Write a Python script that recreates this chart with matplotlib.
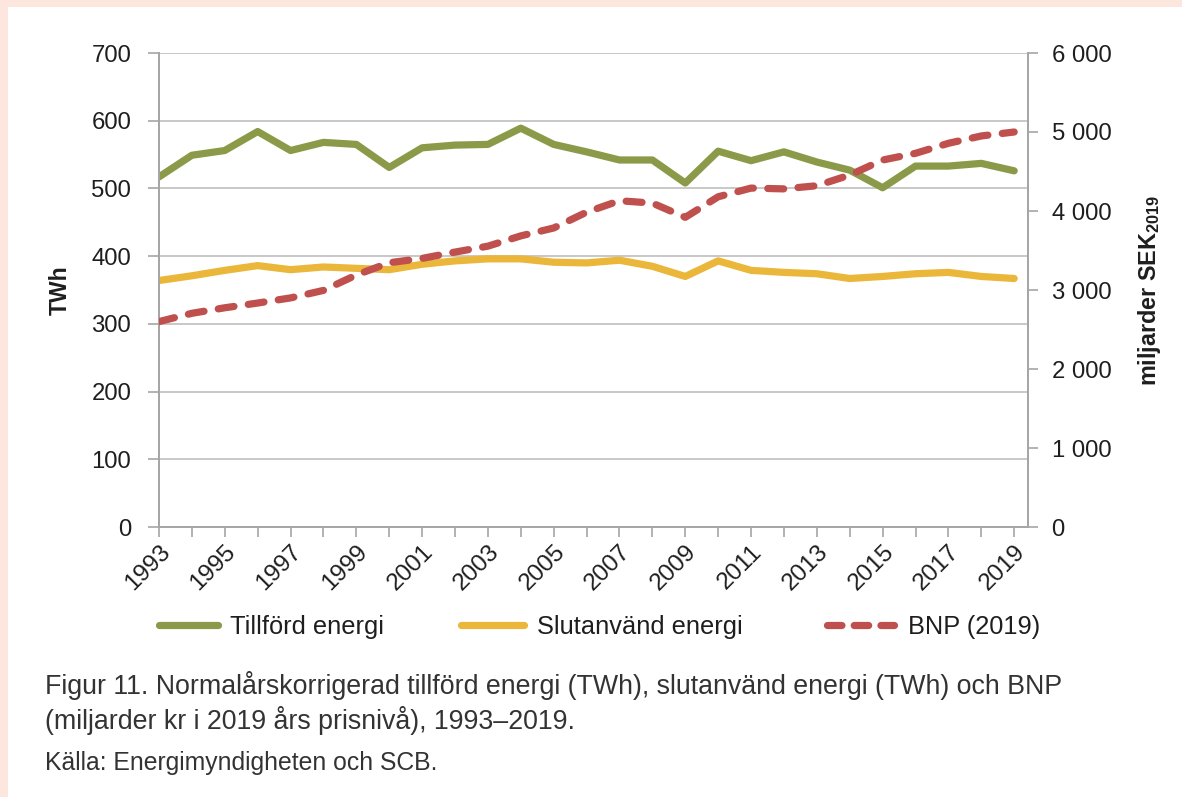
import matplotlib
matplotlib.use("Agg")
import matplotlib.pyplot as plt
import matplotlib.patches as mpatches
from matplotlib.lines import Line2D
from matplotlib.ticker import FuncFormatter

plt.rcParams["font.family"] = ["Liberation Sans", "DejaVu Sans"]
plt.rcParams["mathtext.fontset"] = "custom"
plt.rcParams["mathtext.rm"] = "Liberation Sans"
plt.rcParams["mathtext.bf"] = "Liberation Sans:bold"

# ── Data ──────────────────────────────────────────────────────────────────────
years = list(range(1993, 2020))
tillford = [517, 549, 556, 584, 556, 568, 565, 531, 560, 564, 565, 589, 565, 554,
            542, 542, 508, 555, 541, 554, 539, 527, 501, 533, 533, 537, 526]
slutanvand = [364, 371, 379, 386, 380, 384, 382, 380, 388, 393, 396, 396, 391, 390,
              394, 385, 370, 393, 379, 376, 374, 367, 370, 374, 376, 370, 367]
bnp = [2600, 2705, 2775, 2835, 2900, 2995, 3190, 3345, 3400, 3480, 3555, 3685, 3785, 3985,
       4130, 4100, 3920, 4180, 4290, 4280, 4320, 4455, 4645, 4730, 4857, 4950, 5000]

left_ticks = [0, 100, 200, 300, 400, 500, 600, 700]
right_ticks = [0, 1000, 2000, 3000, 4000, 5000, 6000]
year_labels = list(range(1993, 2020, 2))

GREEN = "#8A9A48"
YELLOW = "#EBB73A"
RED = "#C0504D"
GRID = "#BFBFBF"
AXIS = "#A6A6A6"
TEXT = "#1E1E1E"

caption = ("Figur 11. Normalårskorrigerad tillförd energi (TWh), slutanvänd energi (TWh) och BNP\n"
           "(miljarder kr i 2019 års prisnivå), 1993–2019.")
source = "Källa: Energimyndigheten och SCB."


def space_thousands(v, pos):
    return f"{int(v):,}".replace(",", " ")


def main():
    W, H = 1182, 797
    fig = plt.figure(figsize=(W / 100, H / 100), dpi=100)
    fig.patch.set_facecolor("#FCE6DE")
    fig.add_artist(mpatches.Rectangle((8 / W, 0), 1 - 8 / W, 1 - 7 / H,
                                      transform=fig.transFigure,
                                      facecolor="white", edgecolor="none", zorder=0))

    ax = fig.add_axes([159 / W, 1 - 527 / H, (1028 - 159) / W, (527 - 53) / H])
    ax.set_facecolor("none")
    ax2 = ax.twinx()

    lw = 5.2
    l1, = ax.plot(years, tillford, color=GREEN, lw=lw, solid_capstyle="round",
                  solid_joinstyle="round", label="Tillförd energi", zorder=3)
    l2, = ax.plot(years, slutanvand, color=YELLOW, lw=lw, solid_capstyle="round",
                  solid_joinstyle="round", label="Slutanvänd energi", zorder=3)
    ax2.plot(years, bnp, color=RED, lw=lw, dash_capstyle="round",
             dash_joinstyle="round", dashes=(2.2, 2.0), zorder=3)
    # legend proxy with the tighter dash pattern of the original legend
    l3 = Line2D([], [], color=RED, lw=lw, dash_capstyle="round",
                dashes=(2.0, 1.7), label="BNP (2019)")

    ax.set_xlim(1993, 2019.42)
    ax.set_ylim(0, 700)
    ax2.set_ylim(0, 6000)

    ax.set_yticks(left_ticks)
    ax2.set_yticks(right_ticks)
    ax2.yaxis.set_major_formatter(FuncFormatter(space_thousands))

    ax.set_xticks(years, minor=True)
    ax.set_xticks(year_labels)
    ax.set_xticklabels([str(y) for y in year_labels], rotation=45, ha="right",
                       rotation_mode="anchor")

    ax.grid(axis="y", color=GRID, lw=1.2)
    ax.set_axisbelow(True)

    for a in (ax, ax2):
        a.spines["top"].set_visible(False)
        for side in ("left", "right", "bottom"):
            a.spines[side].set_color(AXIS)
            a.spines[side].set_linewidth(1.3)

    ax.tick_params(axis="y", length=8, width=1.2, color=AXIS, labelsize=17.2,
                   labelcolor=TEXT, pad=12)
    ax2.tick_params(axis="y", length=7, width=1.2, color=AXIS, labelsize=17.2,
                    labelcolor=TEXT, pad=10)
    ax.tick_params(axis="x", which="both", length=7, width=1.2, color=AXIS,
                   labelsize=17.5, labelcolor=TEXT, pad=3)

    ax.set_ylabel("TWh", fontsize=16.5, fontweight="bold", color=TEXT, labelpad=14)
    ax2.set_ylabel(r"miljarder SEK$_{\mathbf{2019}}$", fontsize=16.8, fontweight="bold",
                   color=TEXT, labelpad=18)

    # legend entries placed one by one, like the Excel original
    legend_y = 1 - 627 / H
    for handle, x0, hl, pad in ((l1, 158.6, 2.35, 0.46), (l2, 460.6, 2.51, 0.5),
                                (l3, 826.6, 2.67, 0.53)):
        fig.legend(handles=[handle], loc="center left", bbox_to_anchor=(x0 / W, legend_y),
                   frameon=False, fontsize=18.3, handlelength=hl, handletextpad=pad,
                   borderpad=0, borderaxespad=0, labelcolor=TEXT)

    fig.text(45 / W, 1 - 703 / H, caption, fontsize=19.3, color="#333333",
             va="center", ha="left", linespacing=1.25)
    fig.text(45 / W, 1 - 763 / H, source, fontsize=17.8, color="#333333",
             va="center", ha="left")

    fig.savefig("out.png", dpi=100, facecolor=fig.get_facecolor())


if __name__ == "__main__":
    main()
